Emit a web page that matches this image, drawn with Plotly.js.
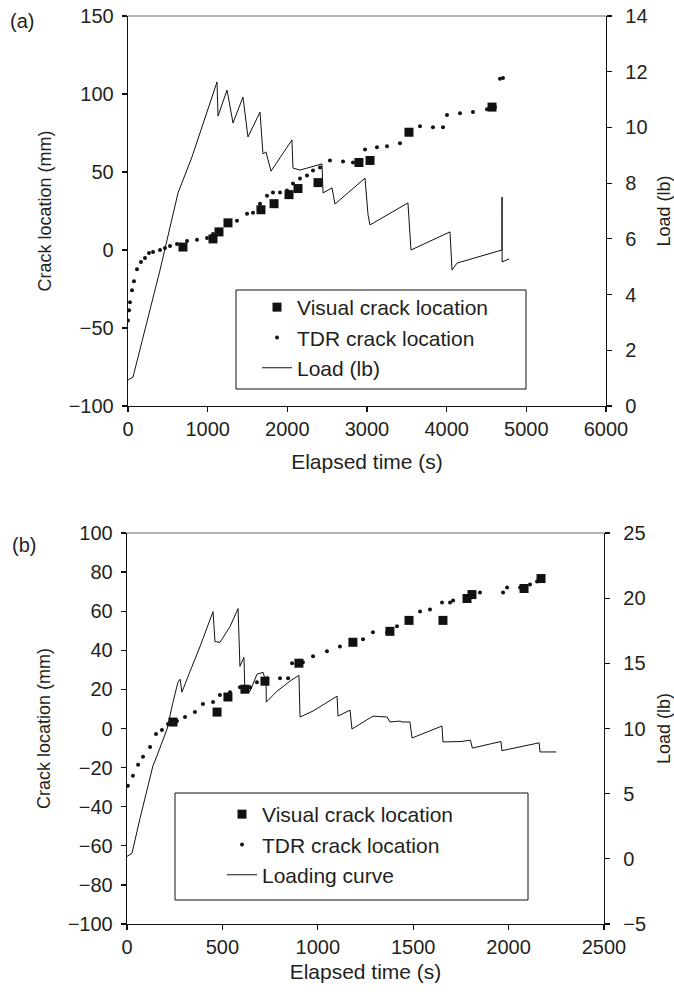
<!DOCTYPE html>
<html>
<head>
<meta charset="utf-8">
<script src="https://cdn.plot.ly/plotly-3.0.1.min.js"></script>
<style>html,body{margin:0;padding:0;background:#fff;}#chart{width:674px;height:992px;}</style>
</head>
<body>
<div id="chart"></div>
<script>
// ---------- Panel (a) data ----------
const visA_t = [690, 1067, 1142, 1255, 1669, 1833, 2021, 2134, 2385, 2899, 3038, 3527, 4569];
const visA_y = [1.9, 7.1, 11.6, 17.4, 25.8, 29.7, 35.5, 39.4, 43.2, 56.1, 57.4, 75.5, 91.6];

const tdrA_t = [0, 13, 25, 50, 75, 113, 163, 213, 264, 314, 402, 464, 527, 615, 741, 866, 992, 1067, 1155, 1243, 1368, 1494, 1569, 1657, 1745, 1820, 1908, 1996, 2071, 2159, 2247, 2322, 2410, 2535, 2699, 2824, 2975, 3125, 3251, 3414, 3502, 3665, 3828, 3954, 4004, 4167, 4330, 4506, 4606, 4669, 4707];
const tdrA_y = [-45.2, -38.7, -33.5, -25.8, -20.0, -12.3, -7.7, -5.2, -1.9, -1.3, 0.0, 1.3, 2.6, 3.9, 5.8, 6.5, 7.7, 10.3, 12.3, 16.8, 18.7, 23.2, 23.9, 29.7, 34.8, 36.8, 36.8, 38.1, 42.6, 45.8, 47.7, 51.0, 52.9, 57.4, 56.8, 56.1, 64.5, 65.8, 66.5, 68.4, 75.5, 79.4, 78.7, 78.7, 86.5, 87.7, 88.4, 90.3, 91.6, 109.7, 110.3];

const loadA_t = [0, 63, 402, 628, 803, 1117, 1130, 1243, 1318, 1443, 1506, 1657, 1694, 1732, 1795, 2058, 2071, 2159, 2435, 2448, 2561, 2598, 2975, 3013, 3038, 3514, 3552, 4042, 4067, 4130, 4694, 4695, 4696, 4782];
const loadA_y = [0.93, 1.04, 4.88, 7.65, 8.94, 11.63, 10.41, 11.34, 10.16, 11.09, 9.66, 10.55, 9.05, 9.12, 8.43, 9.55, 8.54, 8.47, 8.69, 7.65, 7.83, 7.25, 8.18, 6.86, 6.50, 7.29, 5.60, 6.25, 4.88, 5.13, 5.60, 7.50, 5.17, 5.28];

// ---------- Panel (b) data ----------
const visB_t = [241, 472, 529, 618, 723, 901, 1184, 1378, 1478, 1656, 1782, 1808, 2081, 2170];
const visB_y = [3.3, 8.4, 16.1, 20.1, 24.2, 33.4, 44.1, 49.7, 55.3, 55.3, 66.5, 68.5, 71.6, 76.7];

const tdrB_t = [5, 31, 58, 84, 121, 152, 183, 215, 262, 304, 356, 398, 451, 487, 540, 592, 645, 681, 734, 802, 844, 865, 922, 975, 1048, 1116, 1184, 1237, 1289, 1363, 1415, 1467, 1536, 1588, 1651, 1693, 1709, 1782, 1850, 1971, 1992, 2060, 2112, 2149];
const tdrB_y = [-29.3, -24.2, -18.6, -14.5, -9.4, -2.8, -0.8, 2.3, 3.8, 5.9, 8.4, 12.5, 13.5, 17.1, 18.6, 21.1, 21.1, 23.7, 25.7, 25.7, 25.7, 33.4, 33.9, 36.9, 39.5, 42.0, 44.1, 45.6, 49.2, 49.2, 52.3, 56.3, 59.9, 60.9, 64.5, 64.5, 65.5, 67.0, 69.6, 69.6, 72.1, 72.1, 73.6, 75.2];

const loadB_t = [0, 26, 68, 136, 157, 210, 241, 267, 278, 288, 314, 383, 451, 461, 487, 540, 582, 592, 613, 618, 645, 681, 713, 729, 730, 786, 854, 901, 907, 975, 1101, 1106, 1169, 1179, 1221, 1289, 1363, 1378, 1431, 1441, 1483, 1494, 1572, 1651, 1656, 1693, 1750, 1800, 1810, 1900, 1960, 1965, 2100, 2160, 2165, 2250];
const loadB_y = [0.19, 0.42, 3.09, 7.14, 7.90, 9.96, 12.02, 13.55, 13.78, 12.79, 13.78, 16.30, 18.97, 16.68, 16.60, 17.82, 19.20, 14.77, 15.46, 12.79, 12.86, 14.16, 14.31, 13.55, 12.02, 12.86, 13.63, 14.08, 10.88, 11.34, 12.48, 10.95, 11.41, 9.96, 10.34, 10.95, 10.88, 10.50, 10.57, 10.50, 10.50, 9.27, 9.73, 10.19, 8.97, 8.97, 9.0, 9.1, 8.5, 8.8, 9.0, 8.3, 8.7, 8.9, 8.2, 8.2];

// ---------- labels ----------
const xTitle = 'Elapsed time (s)';
const yTitleL = 'Crack location (mm)';
const yTitleR = 'Load (lb)';
const legA = ['Visual crack location', 'TDR crack location', 'Load (lb)'];
const legB = ['Visual crack location', 'TDR crack location', 'Loading curve'];

// ---------- geometry helpers (pixels -> paper) ----------
const W = 674, H = 992;
const px = v => v / W;
const py = v => 1 - v / H;

const FONT = '"Liberation Sans", Arial, Helvetica, sans-serif';
const TXT = '#231f20';

const sq = {symbol: 'square', size: 9, color: '#111'};
const dot = {symbol: 'circle', size: 4, color: '#111'};
const ln = {color: '#111', width: 1};

const data = [
  {x: visA_t, y: visA_y, xaxis: 'x', yaxis: 'y', mode: 'markers', marker: sq, name: legA[0], legend: 'legend', legendgroup: 'a1'},
  {x: tdrA_t, y: tdrA_y, xaxis: 'x', yaxis: 'y', mode: 'markers', marker: dot, name: legA[1], legend: 'legend', legendgroup: 'a2'},
  {x: loadA_t, y: loadA_y, xaxis: 'x', yaxis: 'y2', mode: 'lines', line: ln, name: legA[2], legend: 'legend', legendgroup: 'a3'},
  {x: visB_t, y: visB_y, xaxis: 'x2', yaxis: 'y3', mode: 'markers', marker: sq, name: legB[0], legend: 'legend2', legendgroup: 'b1'},
  {x: tdrB_t, y: tdrB_y, xaxis: 'x2', yaxis: 'y3', mode: 'markers', marker: dot, name: legB[1], legend: 'legend2', legendgroup: 'b2'},
  {x: loadB_t, y: loadB_y, xaxis: 'x2', yaxis: 'y4', mode: 'lines', line: ln, name: legB[2], legend: 'legend2', legendgroup: 'b3'}
];

const axBase = {
  showline: true, linecolor: '#111', linewidth: 1.3, ticks: 'outside', ticklen: 5, tickwidth: 1.2, tickcolor: '#111',
  showgrid: false, zeroline: false, automargin: false,
  tickfont: {family: FONT, size: 20, color: TXT}
};
const xt = {text: xTitle, font: {family: FONT, size: 21, color: TXT}};
const ylt = {text: yTitleL, font: {family: FONT, size: 18, color: TXT}, standoff: 12};
const yrt = {text: yTitleR, font: {family: FONT, size: 18, color: TXT}, standoff: 12};

const legBase = {
  font: {family: FONT, size: 21, color: TXT}, bgcolor: 'rgba(0,0,0,0)', borderwidth: 0,
  xanchor: 'left', yanchor: 'top', tracegroupgap: 9.5, traceorder: 'normal', itemwidth: 30
};

const layout = {
  width: W, height: H, margin: {l: 0, r: 0, t: 0, b: 0},
  paper_bgcolor: '#fff', plot_bgcolor: '#fff', showlegend: true,
  font: {family: FONT, color: TXT},
  xaxis: Object.assign({}, axBase, {domain: [px(128), px(606)], anchor: 'y', range: [0, 6000], dtick: 1000, title: Object.assign({}, xt, {standoff: 15})}),
  yaxis: Object.assign({}, axBase, {domain: [py(406), py(16)], anchor: 'x', range: [-100, 150], dtick: 50, title: ylt, ticklabelstandoff: 4}),
  yaxis2: Object.assign({}, axBase, {overlaying: 'y', side: 'right', anchor: 'x', range: [0, 14], dtick: 2, title: yrt, ticklabelstandoff: 9}),
  yaxis5: {overlaying: 'y', side: 'right', anchor: 'x', range: [0, 14], dtick: 2, ticks: 'inside', ticklen: 5, tickwidth: 1.2, tickcolor: '#111', showticklabels: false, showline: false, showgrid: false, zeroline: false},
  xaxis2: Object.assign({}, axBase, {domain: [px(127), px(604)], anchor: 'y3', range: [0, 2500], dtick: 500, title: Object.assign({}, xt, {standoff: 7})}),
  yaxis3: Object.assign({}, axBase, {domain: [py(924), py(533)], anchor: 'x2', range: [-100, 100], dtick: 20, title: ylt, ticklabelstandoff: 4}),
  yaxis4: Object.assign({}, axBase, {overlaying: 'y3', side: 'right', anchor: 'x2', range: [-5, 25], dtick: 5, title: yrt, ticklabelstandoff: 9}),
  yaxis6: {overlaying: 'y3', side: 'right', anchor: 'x2', range: [-5, 25], dtick: 5, ticks: 'inside', ticklen: 5, tickwidth: 1.2, tickcolor: '#111', showticklabels: false, showline: false, showgrid: false, zeroline: false},
  legend: Object.assign({}, legBase, {x: px(257), y: py(287)}),
  legend2: Object.assign({}, legBase, {x: px(222), y: py(794)}),
  shapes: [
    {type: 'rect', xref: 'paper', yref: 'paper', x0: px(236), x1: px(526), y0: py(389), y1: py(290), line: {color: '#111', width: 1}},
    {type: 'rect', xref: 'paper', yref: 'paper', x0: px(175), x1: px(528), y0: py(900), y1: py(793), line: {color: '#111', width: 1}},
    {type: 'line', xref: 'paper', yref: 'paper', x0: px(128), x1: px(606), y0: py(16), y1: py(16), line: {color: '#9a9a9a', width: 1.5}},
    {type: 'line', xref: 'paper', yref: 'paper', x0: px(127), x1: px(604), y0: py(533), y1: py(533), line: {color: '#9a9a9a', width: 1.5}}
  ],
  annotations: [
    {text: '(a)', xref: 'paper', yref: 'paper', x: px(8), y: py(21), xanchor: 'left', yanchor: 'middle', showarrow: false, font: {family: FONT, size: 20, color: TXT}},
    {text: '(b)', xref: 'paper', yref: 'paper', x: px(10), y: py(545), xanchor: 'left', yanchor: 'middle', showarrow: false, font: {family: FONT, size: 20, color: TXT}}
  ]
};

Plotly.newPlot('chart', data, layout, {staticPlot: true, displayModeBar: false});
</script>
</body>
</html>
